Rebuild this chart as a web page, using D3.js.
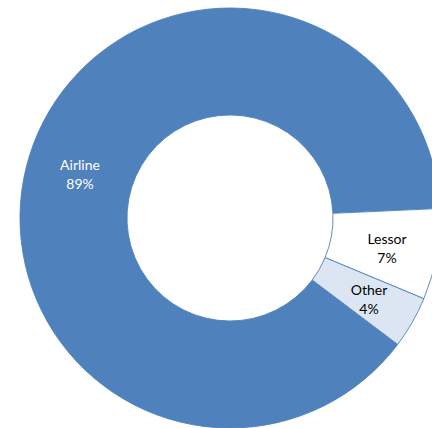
<!DOCTYPE html>
<html>
<head>
<meta charset="utf-8">
<script src="https://cdn.jsdelivr.net/npm/d3@7/dist/d3.min.js"></script>
<style>
html,body{margin:0;padding:0;background:#fff;overflow:hidden;}
svg{display:block;}
</style>
</head>
<body>
<svg id="chart" width="432" height="428"></svg>
<script>
const categories = ["Airline", "Lessor", "Other"];
const values = [89, 7, 4];
const labels = ["89%", "7%", "4%"];
const fills = ["#4f81bd", "#ffffff", "#dce6f2"];
const textColors = ["#ffffff", "#000000", "#000000"];

const data = categories.map((c, i) => ({ name: c, value: values[i], label: labels[i], fill: fills[i], text: textColors[i] }));

const svg = d3.select("#chart");
const cx = 230, cy = 218, rOuter = 210, rInner = 103;
const startDeg = 127;

const pie = d3.pie().sort(null).value(d => d.value)
  .startAngle(startDeg * Math.PI / 180)
  .endAngle((startDeg + 360) * Math.PI / 180);
const arc = d3.arc().innerRadius(rInner).outerRadius(rOuter);

const g = svg.append("g").attr("transform", `translate(${cx},${cy})`);
const arcs = pie(data);

g.selectAll("path").data(arcs).enter().append("path")
  .attr("d", arc)
  .attr("fill", d => d.data.fill)
  .attr("stroke", "#4f81bd")
  .attr("stroke-width", 0.9);

const labelPos = { "Airline": [80 - cx, 173 - cy], "Lessor": [387 - cx, 247 - cy], "Other": [369 - cx, 298 - cy] };

const lg = g.selectAll("g.lbl").data(arcs).enter().append("g").attr("class", "lbl")
  .attr("transform", d => { const p = labelPos[d.data.name]; return `translate(${p[0]},${p[1]})`; });
lg.append("text").attr("text-anchor", "middle").attr("y", -3)
  .attr("font-family", "Lato, 'Open Sans', sans-serif").attr("font-size", 14)
  .attr("fill", d => d.data.text).text(d => d.data.name);
lg.append("text").attr("text-anchor", "middle").attr("y", 16)
  .attr("font-family", "Lato, 'Open Sans', sans-serif").attr("font-size", 14)
  .attr("fill", d => d.data.text).text(d => d.data.label);
</script>
</body>
</html>
